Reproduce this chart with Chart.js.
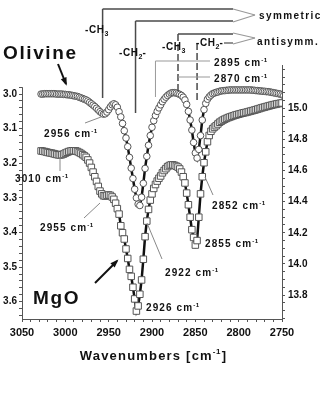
<!DOCTYPE html>
<html>
<head>
<meta charset="utf-8">
<script src="https://cdn.jsdelivr.net/npm/chart.js@4.4.0/dist/chart.umd.min.js"></script>
<style>
  html, body { margin: 0; padding: 0; background: #fff; }
  canvas { display: block; }
</style>
</head>
<body>
<canvas id="chart" width="324" height="400"></canvas>
<script>
// Olivine (circles, left axis)
const olivineWn = [
    3028, 3026, 3024, 3022, 3020, 3018, 3016, 3014, 3012, 3010,
    3008, 3006, 3004, 3002, 3000, 2998, 2996, 2994, 2992, 2990,
    2988, 2986, 2984, 2982, 2980, 2978, 2976, 2974, 2972, 2970,
    2968, 2966, 2964, 2962, 2960, 2958, 2956, 2954, 2952, 2950,
    2948, 2946, 2944, 2942, 2940, 2938, 2936, 2934, 2932, 2930,
    2928, 2926, 2924, 2922, 2920, 2918, 2916, 2914, 2912, 2910,
    2908, 2906, 2904, 2902, 2900, 2898, 2896, 2894, 2892, 2890,
    2888, 2886, 2884, 2882, 2880, 2878, 2876, 2874, 2872, 2870,
    2868, 2866, 2864, 2862, 2860, 2858, 2856, 2854, 2852, 2850,
    2848, 2846, 2844, 2842, 2840, 2838, 2836, 2834, 2832, 2830,
    2828, 2826, 2824, 2822, 2820, 2818, 2816, 2814, 2812, 2810,
    2808, 2806, 2804, 2802, 2800, 2798, 2796, 2794, 2792, 2790,
    2788, 2786, 2784, 2782, 2780, 2778, 2776, 2774, 2772, 2770,
    2768, 2766, 2764, 2762, 2760, 2758, 2756, 2754, 2752, 2750,
    2748];
const olivineVal = [
    3.000, 3.000, 2.999, 2.999, 2.999, 2.999, 2.999, 2.999, 2.999, 3.000,
    3.000, 3.000, 3.000, 3.001, 3.001, 3.002, 3.002, 3.003, 3.004, 3.005,
    3.006, 3.007, 3.009, 3.011, 3.013, 3.015, 3.017, 3.020, 3.024, 3.028,
    3.032, 3.036, 3.041, 3.046, 3.051, 3.055, 3.058, 3.057, 3.052, 3.045,
    3.037, 3.031, 3.028, 3.031, 3.038, 3.051, 3.066, 3.085, 3.106, 3.127,
    3.152, 3.183, 3.214, 3.244, 3.275, 3.300, 3.318, 3.322, 3.298, 3.258,
    3.215, 3.180, 3.148, 3.120, 3.096, 3.077, 3.062, 3.050, 3.040, 3.031,
    3.022, 3.015, 3.009, 3.004, 3.000, 2.997, 2.996, 2.996, 2.997, 2.999,
    3.001, 3.004, 3.009, 3.017, 3.030, 3.050, 3.075, 3.104, 3.140, 3.170,
    3.185, 3.160, 3.120, 3.075, 3.045, 3.027, 3.015, 3.008, 3.003, 2.999,
    2.997, 2.995, 2.994, 2.992, 2.991, 2.990, 2.990, 2.989, 2.989, 2.988,
    2.988, 2.988, 2.988, 2.988, 2.988, 2.988, 2.988, 2.988, 2.988, 2.988,
    2.988, 2.988, 2.989, 2.989, 2.990, 2.990, 2.991, 2.991, 2.992, 2.992,
    2.993, 2.993, 2.994, 2.995, 2.996, 2.997, 2.998, 2.999, 3.000, 3.002,
    3.004];

// MgO (squares, right axis)
const mgoWn = [
    3028, 3026, 3024, 3022, 3020, 3018, 3016, 3014, 3012, 3010,
    3008, 3006, 3004, 3002, 3000, 2998, 2996, 2994, 2992, 2990,
    2988, 2986, 2984, 2982, 2980, 2978, 2976, 2974, 2972, 2970,
    2968, 2966, 2964, 2962, 2960, 2958, 2956, 2954, 2952, 2950,
    2948, 2946, 2944, 2942, 2940, 2938, 2936, 2934, 2932, 2930,
    2928, 2926, 2924, 2922, 2920, 2918, 2916, 2914, 2912, 2910,
    2908, 2906, 2904, 2902, 2900, 2898, 2896, 2894, 2892, 2890,
    2888, 2886, 2884, 2882, 2880, 2878, 2876, 2874, 2872, 2870,
    2868, 2866, 2864, 2862, 2860, 2858, 2856, 2854, 2852, 2850,
    2848, 2846, 2844, 2842, 2840, 2838, 2836, 2834, 2832, 2830,
    2828, 2826, 2824, 2822, 2820, 2818, 2816, 2814, 2812, 2810,
    2808, 2806, 2804, 2802, 2800, 2798, 2796, 2794, 2792, 2790,
    2788, 2786, 2784, 2782, 2780, 2778, 2776, 2774, 2772, 2770,
    2768, 2766, 2764, 2762, 2760, 2758, 2756, 2754, 2752, 2750];
const mgoVal = [
    14.726, 14.724, 14.722, 14.719, 14.716, 14.714, 14.712, 14.709, 14.706, 14.703,
    14.701, 14.700, 14.702, 14.706, 14.712, 14.717, 14.722, 14.725, 14.727, 14.727,
    14.726, 14.722, 14.716, 14.710, 14.702, 14.694, 14.685, 14.668, 14.648, 14.620,
    14.590, 14.560, 14.530, 14.498, 14.468, 14.450, 14.438, 14.436, 14.440, 14.443,
    14.440, 14.430, 14.415, 14.390, 14.355, 14.320, 14.245, 14.200, 14.160, 14.096,
    14.035, 13.965, 13.920, 13.850, 13.775, 13.697, 13.730, 13.805, 13.897, 14.030,
    14.175, 14.275, 14.350, 14.410, 14.450, 14.485, 14.510, 14.532, 14.550, 14.565,
    14.585, 14.600, 14.612, 14.625, 14.632, 14.636, 14.636, 14.633, 14.628, 14.622,
    14.610, 14.590, 14.560, 14.520, 14.455, 14.380, 14.300, 14.220, 14.170, 14.121,
    14.150, 14.300, 14.450, 14.560, 14.650, 14.720, 14.785, 14.825, 14.852, 14.868,
    14.879, 14.888, 14.899, 14.910, 14.917, 14.924, 14.930, 14.935, 14.940, 14.944,
    14.948, 14.952, 14.956, 14.959, 14.962, 14.965, 14.968, 14.971, 14.973, 14.976,
    14.979, 14.982, 14.985, 14.988, 14.991, 14.995, 14.998, 15.002, 15.005, 15.008,
    15.011, 15.014, 15.017, 15.020, 15.023, 15.025, 15.028, 15.030, 15.032, 15.034];

const xTickLabels = [3050, 3000, 2950, 2900, 2850, 2800, 2750];
const leftTickLabels = [3.0, 3.1, 3.2, 3.3, 3.4, 3.5, 3.6];
const rightTickLabels = [13.8, 14.0, 14.2, 14.4, 14.6, 14.8, 15.0];

const FONT = '"Liberation Sans", Arial, sans-serif';
const AREA = { left: 22, right: 282, top: 65, bottom: 319 };

function makeTicks(from, to, step) {
    const t = [];
    for (let v = from; v <= to + 1e-9; v += step) t.push({ value: +v.toFixed(3) });
    return t;
}
const isIn = (list, v) => list.some(t => Math.abs(t - v) < 1e-6);

function txt(ctx, s, x, y, size, ls = 1) {
    ctx.font = `bold ${size}px ${FONT}`;
    ctx.letterSpacing = ls + 'px';
    ctx.fillText(s, x, y);
    return x + ctx.measureText(s).width;
}

function cmLabel(ctx, num, x, y, size = 10) {
    const nx = txt(ctx, num + ' cm', x, y, size, 1.1);
    txt(ctx, '-1', nx, y - size * 0.45, size * 0.62, 0.4);
}

// -CH3 / -CH2- with subscript
function chLabel(ctx, sub, tail, x, y) {
    let nx = txt(ctx, '-CH', x, y, 10, 0.6);
    nx = txt(ctx, sub, nx, y + 3, 7, 0);
    if (tail) txt(ctx, tail, nx, y, 10, 0);
}

function line(ctx, x1, y1, x2, y2, color, w, dash) {
    ctx.beginPath();
    ctx.strokeStyle = color;
    ctx.lineWidth = w;
    ctx.setLineDash(dash || []);
    ctx.moveTo(x1, y1);
    ctx.lineTo(x2, y2);
    ctx.stroke();
    ctx.setLineDash([]);
}

function arrow(ctx, x1, y1, x2, y2) {
    line(ctx, x1, y1, x2, y2, '#111', 2);
    const a = Math.atan2(y2 - y1, x2 - x1);
    ctx.beginPath();
    ctx.fillStyle = '#111';
    ctx.moveTo(x2 + Math.cos(a) * 2, y2 + Math.sin(a) * 2);
    ctx.lineTo(x2 - Math.cos(a - 0.45) * 7, y2 - Math.sin(a - 0.45) * 7);
    ctx.lineTo(x2 - Math.cos(a + 0.45) * 7, y2 - Math.sin(a + 0.45) * 7);
    ctx.closePath();
    ctx.fill();
}

const annotations = {
    id: 'annotations',
    afterDraw(chart) {
        const ctx = chart.ctx;
        const px = wn => chart.scales.x.getPixelForValue(wn);
        const yL = chart.scales.y;
        ctx.save();
        ctx.textAlign = 'left';
        ctx.textBaseline = 'alphabetic';

        // left axis line (starts at first tick)
        line(ctx, AREA.left + 0.5, yL.getPixelForValue(2.98), AREA.left + 0.5, AREA.bottom, '#555', 1);

        // assignment brackets
        const dark = '#4a4a4a', light = '#999';
        line(ctx, px(2957), 9, px(2957), 98, dark, 1.5);
        line(ctx, px(2957), 9, 233, 9, dark, 1.5);
        line(ctx, px(2919), 21, px(2919), 113, dark, 1.5);
        line(ctx, px(2919), 21, 233, 21, dark, 1.5);
        line(ctx, px(2870), 34, px(2870), 91, dark, 1.5, [7, 3]);
        line(ctx, px(2870), 34, 233, 34, dark, 1.5);
        line(ctx, px(2848), 43, px(2848), 100, dark, 1.5, [7, 3]);
        line(ctx, 224, 43, 233, 43, dark, 1.2);
        line(ctx, 233, 9, 255, 15, light, 1.2);
        line(ctx, 255, 15, 233, 22, light, 1.2);
        line(ctx, 233, 33, 255, 38, light, 1.2);
        line(ctx, 255, 38, 233, 44, light, 1.2);

        // 2895 / 2870 pointers
        line(ctx, px(2896), 61, px(2896), 97, light, 1);
        line(ctx, px(2896), 61, 210, 61, light, 1);
        line(ctx, px(2870), 77, 210, 77, light, 1);

        // peak pointers
        line(ctx, 85, 123, 101, 117, '#888', 1);
        line(ctx, 60, 158, 60, 171, '#888', 1);
        line(ctx, 84, 218, 100, 203, '#888', 1);
        line(ctx, 147, 223, 162, 259, '#888', 1);
        line(ctx, 205, 177, 213, 195, '#888', 1);

        ctx.fillStyle = '#111';
        chLabel(ctx, '3', '', 85, 33);
        chLabel(ctx, '2', '-', 119, 56);
        chLabel(ctx, '3', '', 162, 50);
        chLabel(ctx, '2', '-', 196, 46);
        txt(ctx, 'symmetric', 259, 19, 10, 1.4);
        txt(ctx, 'antisymm.', 257, 45, 10, 1.4);

        cmLabel(ctx, '2895', 214, 66);
        cmLabel(ctx, '2870', 214, 82);
        cmLabel(ctx, '2956', 44, 137);
        cmLabel(ctx, '3010', 15, 182);
        cmLabel(ctx, '2955', 40, 231);
        cmLabel(ctx, '2852', 212, 209);
        cmLabel(ctx, '2855', 205, 247);
        cmLabel(ctx, '2922', 165, 276);
        cmLabel(ctx, '2926', 146, 311);

        txt(ctx, 'Olivine', 3, 59, 19, 1.6);
        txt(ctx, 'MgO', 33, 304, 19, 1.6);
        arrow(ctx, 58, 64, 66, 84);
        arrow(ctx, 95, 283, 117, 261);

        // x axis title with superscript
        ctx.font = `bold 13px ${FONT}`;
        ctx.letterSpacing = '1.2px';
        const w1 = ctx.measureText('Wavenumbers [cm').width;
        ctx.font = `bold 8px ${FONT}`;
        ctx.letterSpacing = '0.4px';
        const w2 = ctx.measureText('-1').width;
        ctx.font = `bold 13px ${FONT}`;
        ctx.letterSpacing = '1.2px';
        const w3 = ctx.measureText(']').width;
        let tx = 153 - (w1 + w2 + w3) / 2;
        tx = txt(ctx, 'Wavenumbers [cm', tx, 360, 13, 1.2);
        tx = txt(ctx, '-1', tx, 354, 8, 0.4);
        txt(ctx, ']', tx + 1, 360, 13, 1.2);
        ctx.restore();
    }
};

const tickFont = { family: FONT, weight: 'bold', size: 10 };

new Chart(document.getElementById('chart'), {
    type: 'scatter',
    data: {
        datasets: [
            {
                label: 'Olivine',
                data: olivineWn.map((w, i) => ({ x: w, y: olivineVal[i] })),
                yAxisID: 'y',
                showLine: true,
                borderColor: '#111',
                borderWidth: 2.5,
                pointStyle: 'circle',
                pointRadius: 3.3,
                pointBackgroundColor: '#fff',
                pointBorderColor: '#555',
                pointBorderWidth: 1
            },
            {
                label: 'MgO',
                data: mgoWn.map((w, i) => ({ x: w, y: mgoVal[i] })),
                yAxisID: 'y2',
                showLine: true,
                borderColor: '#111',
                borderWidth: 2.5,
                pointStyle: 'rect',
                pointRadius: 4.6,
                pointBackgroundColor: '#fff',
                pointBorderColor: '#555',
                pointBorderWidth: 1
            }
        ]
    },
    options: {
        responsive: false,
        animation: false,
        layout: { padding: { top: AREA.top, left: 0, right: 0, bottom: 0 } },
        plugins: { legend: { display: false }, tooltip: { enabled: false } },
        scales: {
            x: {
                type: 'linear',
                reverse: true,
                min: 2750,
                max: 3050,
                afterBuildTicks: s => { s.ticks = makeTicks(2750, 3050, 10); },
                afterFit: s => { s.height = 400 - AREA.bottom; },
                grid: { drawOnChartArea: false, color: '#555', tickLength: 3 },
                border: { display: true, color: '#555', width: 1 },
                ticks: {
                    autoSkip: false, maxRotation: 0, padding: 4, color: '#111',
                    font: { family: FONT, weight: 'bold', size: 11 },
                    callback: v => isIn(xTickLabels, v) ? String(v) : ''
                }
            },
            y: {
                position: 'left',
                reverse: true,
                min: 2.916,
                max: 3.650,
                afterBuildTicks: s => { s.ticks = makeTicks(2.98, 3.64, 0.02); },
                afterFit: s => { s.width = AREA.left; },
                grid: { drawOnChartArea: false, color: '#555', tickLength: 3 },
                border: { display: false },
                ticks: {
                    autoSkip: false, padding: 2, color: '#111', font: tickFont,
                    callback: v => isIn(leftTickLabels, v) ? v.toFixed(1) : ''
                }
            },
            y2: {
                position: 'right',
                min: 13.646,
                max: 15.278,
                afterBuildTicks: s => { s.ticks = makeTicks(13.65, 15.25, 0.05); },
                afterFit: s => { s.width = 324 - AREA.right; },
                grid: { drawOnChartArea: false, color: '#555', tickLength: 3 },
                border: { display: true, color: '#555', width: 1 },
                ticks: {
                    autoSkip: false, padding: 3, color: '#111', font: tickFont,
                    callback: v => isIn(rightTickLabels, v) ? v.toFixed(1) : ''
                }
            }
        }
    },
    plugins: [annotations]
});
</script>
</body>
</html>
